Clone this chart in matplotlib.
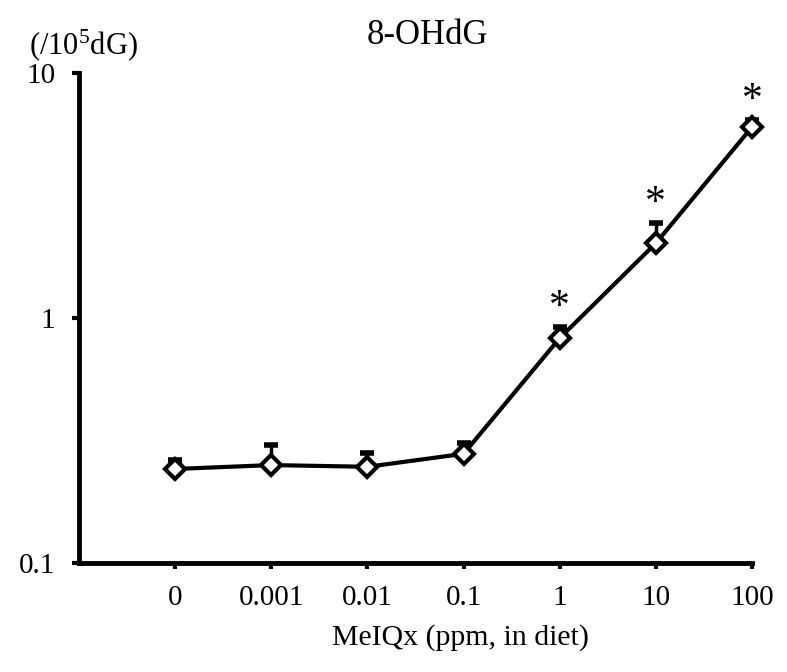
import matplotlib
matplotlib.use("Agg")
import matplotlib.pyplot as plt
import numpy as np

plt.rcParams['font.family'] = ['Liberation Serif', 'DejaVu Serif']
plt.rcParams['mathtext.fontset'] = 'custom'
plt.rcParams['mathtext.rm'] = 'Liberation Serif'
plt.rcParams['mathtext.it'] = 'Liberation Serif:italic'

categories = ["0", "0.001", "0.01", "0.1", "1", "10", "100"]
values = [0.242, 0.251, 0.247, 0.279, 0.828, 2.02, 6.02]
upper_err_top = [0.263, 0.303, 0.281, 0.309, 0.919, 2.44, 6.45]
significant = [False, False, False, False, True, True, True]

x = np.arange(len(categories))
upper = [t - v for t, v in zip(upper_err_top, values)]
lower = [0] * len(values)

fig = plt.figure(figsize=(7.87, 6.72), dpi=100)
ax = fig.add_axes([79/787, 1-563/672, (752-79)/787, (563-73)/672])

eb = ax.errorbar(x, values, yerr=[lower, upper], fmt='none', ecolor='black',
                 elinewidth=2.5, capsize=5, capthick=4, zorder=2)
for art in eb.lines[1] + eb.lines[2]:
    art.set_clip_on(False)
for art in eb.lines[2]:
    art.set_clip_on(False)
ax.plot(x, values, color='black', lw=3, marker='D', markersize=10,
        markerfacecolor='white', markeredgecolor='black', markeredgewidth=3,
        zorder=3, clip_on=False)

for xi, top, sig in zip(x, upper_err_top, significant):
    if sig:
        ax.annotate('*', xy=(xi, top), xytext=(0, 0), textcoords='offset points',
                    ha='center', va='bottom', fontsize=30)

ax.set_yscale('log')
ax.set_ylim(0.1, 10)
ax.set_xlim(-1, 6)
ax.set_yticks([0.1, 1, 10])
ax.set_yticklabels(['0.1', '1', '10'])
ax.yaxis.set_minor_locator(matplotlib.ticker.NullLocator())
ax.set_xticks(x)
ax.set_xticklabels(categories)

for s in ['top', 'right']:
    ax.spines[s].set_visible(False)
for s in ['left', 'bottom']:
    ax.spines[s].set_linewidth(3.5)

ax.tick_params(axis='both', labelsize=21, width=3, color='black', direction='out')
ax.tick_params(axis='y', length=5, pad=12)
ax.tick_params(axis='x', length=4, pad=12)

fig.text(427/787, 1-35/672, '8-OHdG', ha='center', va='center', fontsize=25)
fig.text(461/787, 1-638/672, 'MeIQx (ppm, in diet)', ha='center', va='center', fontsize=21.5)
fig.text(83/787, 1-45/672, '(/10$^{5}$dG)', ha='center', va='center', fontsize=22)

fig.savefig('out.png', dpi=100)
